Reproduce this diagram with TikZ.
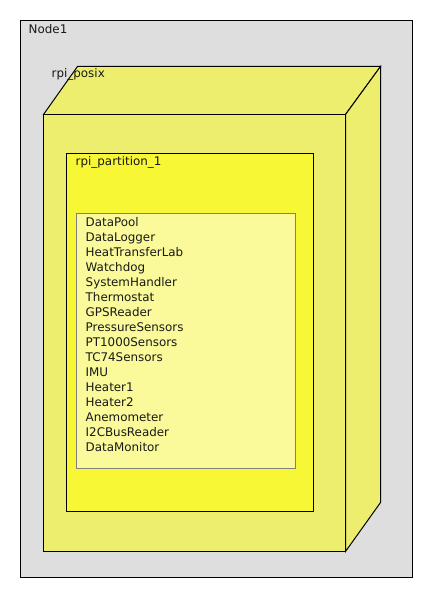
\documentclass[tikz,border=0pt]{standalone}
\usepackage{fontspec}
\setmainfont{DejaVu Sans}
\definecolor{nodegray}{HTML}{DEDEDE}
\definecolor{posixfill}{HTML}{EEEE6E}
\definecolor{partfill}{HTML}{F7F736}
\definecolor{listfill}{HTML}{FAFA9A}
\definecolor{listdraw}{HTML}{808080}
\tikzset{
  lbl/.style={anchor=base west, inner sep=0pt, font=\fontsize{11.9}{15}\selectfont, text=black!90},
  edge/.style={draw=black, line width=1pt, line join=miter},
}
\begin{document}
\begin{tikzpicture}[x=1pt,y=-1pt]
\useasboundingbox (0,0) rectangle (437,594);
% Node1
\draw[edge, fill=nodegray] (20.5,20.5) rectangle (412.5,577.5);
\node[lbl] (node1) at (28.5,33.3) {Node1};
% rpi_posix (3D box)
\draw[edge, fill=posixfill] (43.5,114.5) -- (77.5,66.5) -- (380.5,66.5) -- (345.5,114.5) -- cycle;
\draw[edge, fill=posixfill] (345.5,114.5) -- (380.5,66.5) -- (380.5,502.5) -- (345.5,551.5) -- cycle;
\draw[edge, fill=posixfill] (43.5,114.5) rectangle (345.5,551.5);
\node[lbl] (posix) at (51.5,77.8) {rpi\_posix};
% rpi_partition_1
\draw[edge, fill=partfill] (66.5,153.5) rectangle (313.5,511.5);
\node[lbl] (part) at (75.5,165.6) {rpi\_partition\_1};
% list
\draw[draw=listdraw, line width=1pt, fill=listfill] (76.5,213.5) rectangle (295.5,468.5);
\node[lbl, align=left, anchor=north west] (list) at (85.5,216.8) {DataPool\\DataLogger\\HeatTransferLab\\Watchdog\\SystemHandler\\Thermostat\\GPSReader\\PressureSensors\\PT1000Sensors\\TC74Sensors\\IMU\\Heater1\\Heater2\\Anemometer\\I2CBusReader\\DataMonitor};
\end{tikzpicture}
\end{document}
